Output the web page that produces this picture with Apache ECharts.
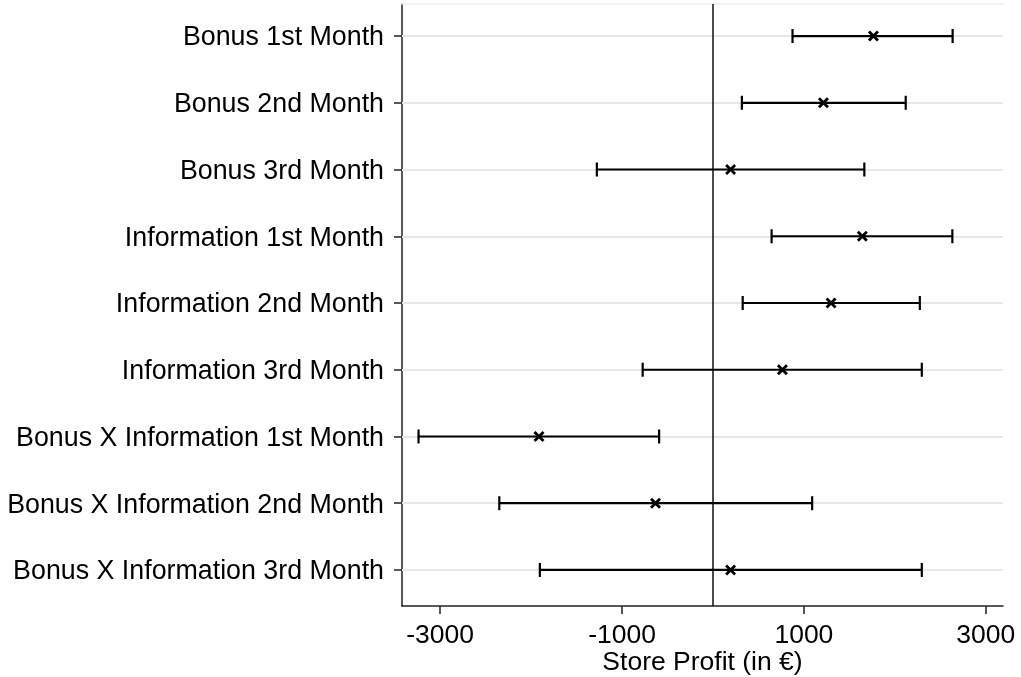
<!DOCTYPE html>
<html>
<head>
<meta charset="utf-8">
<script src="https://cdn.jsdelivr.net/npm/echarts@6/dist/echarts.min.js"></script>
<style>html,body{margin:0;padding:0;background:#fff}#c{width:1021px;height:677px}</style>
</head>
<body>
<div id="c"></div>
<script>
const categories = [
  'Bonus 1st Month',
  'Bonus 2nd Month',
  'Bonus 3rd Month',
  'Information 1st Month',
  'Information 2nd Month',
  'Information 3rd Month',
  'Bonus X Information 1st Month',
  'Bonus X Information 2nd Month',
  'Bonus X Information 3rd Month'
];
const estimates = [1765, 1215, 194, 1643, 1299, 764, -1913, -632, 194];
const lowerCI   = [875, 318, -1277, 645, 327, -773, -3238, -2350, -1904];
const upperCI   = [2636, 2120, 1665, 2633, 2275, 2297, -592, 1091, 2297];
const xTicks = [-3000, -1000, 1000, 3000];

const rows = categories.map((c, i) => [estimates[i], lowerCI[i], upperCI[i], i]);
const FONT = "'Liberation Sans', Arial, sans-serif";

const chart = echarts.init(document.getElementById('c'), null, {renderer: 'canvas'});
chart.setOption({
  animation: false,
  backgroundColor: '#fff',
  grid: {left: 402, right: 18, top: 4, bottom: 71, containLabel: false, outerBoundsMode: 'none'},
  xAxis: [{
    type: 'value', min: -3420, max: 3190, position: 'bottom',
    axisLine: {show: true, onZero: false, lineStyle: {color: '#222', width: 1.5}},
    axisTick: {show: true, length: 8, customValues: xTicks, lineStyle: {color: '#222', width: 1.5}},
    axisLabel: {customValues: xTicks, formatter: v => String(v), fontSize: 26.5, fontFamily: FONT, color: '#000', margin: 16},
    splitLine: {show: false},
    name: 'Store Profit (in €)', nameLocation: 'middle', nameGap: 43, nameMoveOverlap: false,
    nameTextStyle: {fontSize: 26.5, fontFamily: FONT, color: '#000'}
  }, {
    type: 'value', min: -3420, max: 3190, position: 'top',
    axisLine: {show: true, onZero: false, lineStyle: {color: '#eeeeee', width: 1.5}},
    axisTick: {show: false}, axisLabel: {show: false}, splitLine: {show: false}
  }],
  yAxis: {
    type: 'value', inverse: true, min: -0.48, max: 8.54,
    axisLine: {show: true, onZero: false, lineStyle: {color: '#222', width: 1.5}},
    axisTick: {show: true, length: 8, customValues: categories.map((c, i) => i), lineStyle: {color: '#222', width: 1.5}},
    axisLabel: {
      customValues: categories.map((c, i) => i),
      formatter: v => '{t|' + (categories[Math.round(v)] || '') + '}',
      fontSize: 26.8, fontFamily: FONT, color: '#000', margin: 18,
      rich: {t: {fontSize: 26.8, fontFamily: FONT, color: '#000', padding: [4, 0, 0, 0]}}
    },
    splitLine: {show: false}
  },
  series: [{
    type: 'line', data: [], z: 1,
    markLine: {
      z: 1, silent: true, symbol: 'none', animation: false,
      label: {show: false},
      data: categories.map((c, i) => ({yAxis: i, lineStyle: {color: '#e8e8e8', width: 2, type: 'solid'}}))
        .concat([{xAxis: 0, lineStyle: {color: '#111', width: 1.5, type: 'solid'}}])
    }
  }, {
    type: 'custom', z: 3,
    coordinateSystem: 'cartesian2d',
    encode: {x: [0, 1, 2], y: 3},
    data: rows,
    renderItem: function (params, api) {
      const yv = api.value(3);
      const p = api.coord([api.value(0), yv]);
      const a = api.coord([api.value(1), yv]);
      const b = api.coord([api.value(2), yv]);
      const cap = 7, cr = 4.5;
      const st = {stroke: '#000', lineWidth: 2.2};
      const sx = {stroke: '#000', lineWidth: 2.8};
      return {
        type: 'group',
        children: [
          {type: 'line', shape: {x1: a[0], y1: a[1], x2: b[0], y2: b[1]}, style: st},
          {type: 'line', shape: {x1: a[0], y1: a[1] - cap, x2: a[0], y2: a[1] + cap}, style: st},
          {type: 'line', shape: {x1: b[0], y1: b[1] - cap, x2: b[0], y2: b[1] + cap}, style: st},
          {type: 'line', shape: {x1: p[0] - cr, y1: p[1] - cr, x2: p[0] + cr, y2: p[1] + cr}, style: sx},
          {type: 'line', shape: {x1: p[0] - cr, y1: p[1] + cr, x2: p[0] + cr, y2: p[1] - cr}, style: sx}
        ]
      };
    }
  }]
});
</script>
</body>
</html>
